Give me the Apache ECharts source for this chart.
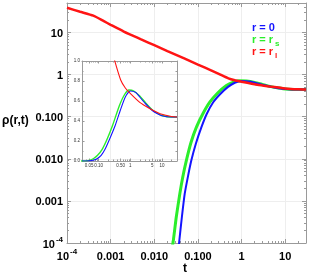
<!DOCTYPE html>
<html><head><meta charset="utf-8">
<script src="https://cdn.jsdelivr.net/npm/echarts@6/dist/echarts.min.js"></script>
<style>html,body{margin:0;padding:0;background:#fff}#c{width:310px;height:279px}</style>
</head><body><div id="c"></div>
<script>
// ---- data ----
const tRed   = [1e-4, 2e-4, 4e-4, 7e-4, 1e-3, 2e-3, 5e-3, 0.01, 0.02, 0.05, 0.1, 0.2, 0.3, 0.5, 0.7, 1, 2, 3, 5, 10, 20, 30];
const rhoRed = [38.5, 31, 25, 18.5, 15.2, 10.5, 6.85, 4.98, 3.62, 2.38, 1.73, 1.26, 1.04, 0.81, 0.73, 0.676, 0.586, 0.55, 0.51, 0.467, 0.445, 0.44];
const tGreen   = [0.02, 0.027, 0.032, 0.0386, 0.045, 0.0546, 0.07, 0.093, 0.13, 0.187, 0.28, 0.45, 0.65, 0.91, 1.3, 2, 3, 5, 7, 10, 20, 30];
const rhoGreen = [1.5e-5, 1.05e-4, 4.2e-4, 0.0015, 0.0037, 0.0093, 0.025, 0.057, 0.117, 0.22, 0.36, 0.55, 0.66, 0.71, 0.70, 0.65, 0.585, 0.51, 0.48, 0.455, 0.44, 0.44];
const tBlue   = [0.03, 0.037, 0.043, 0.05, 0.06, 0.071, 0.09, 0.121, 0.16, 0.224, 0.33, 0.49, 0.7, 1, 1.5, 2, 3, 5, 7, 10, 20, 30];
const rhoBlue = [1.2e-5, 1e-4, 4.2e-4, 0.0015, 0.0041, 0.0093, 0.023, 0.057, 0.117, 0.22, 0.35, 0.51, 0.64, 0.70, 0.685, 0.64, 0.575, 0.505, 0.475, 0.453, 0.44, 0.44];

const mainXTickValues = [1e-4, 1e-3, 1e-2, 0.1, 1, 10];
const mainXTickLabels = ['10^-4', '0.001', '0.010', '0.100', '1', '10'];
const mainYTickValues = [1e-4, 1e-3, 1e-2, 0.1, 1, 10];
const mainYTickLabels = ['10^-4', '0.001', '0.010', '0.100', '1', '10'];
const insetXTickValues = [0.05, 0.1, 0.5, 1, 5, 10];
const insetXTickLabels = ['0.05', '0.10', '0.50', '1', '5', '10'];
const insetYTickValues = [0, 0.2, 0.4, 0.6, 0.8, 1.0];
const insetYTickLabels = ['0.0', '0.2', '0.4', '0.6', '0.8', '1.0'];

const mainXRange = [1e-4, 30], mainYRange = [1e-4, 50];
const insetXRange = [0.03, 30], insetYRange = [0, 1];

// ---- build ----
const L = Math.log10;
const FONT = '"Liberation Sans", Arial, sans-serif';
const AX = '#9a9a9a';
function minorLog(range) {
  const out = [];
  for (let n = -6; n <= 3; n++) for (let k = 2; k <= 9; k++) {
    const v = k * Math.pow(10, n);
    if (v > range[0] && v < range[1]) out.push(L(v));
  }
  return out;
}
function labelFmt(vals, labels, logged) {
  return function (v) {
    let best = 0, d = Infinity;
    vals.forEach((tv, i) => { const x = logged ? L(tv) : tv; if (Math.abs(x - v) < d) { d = Math.abs(x - v); best = i; } });
    const s = labels[best];
    if (s.indexOf('^') >= 0) { const p = s.split('^'); return '{b|' + p[0] + '}{s|' + p[1] + '}'; }
    return '{b|' + s + '}';
  };
}
const richMain = {
  b: {fontFamily: FONT, fontWeight: 'bold', fontSize: 11, color: '#000', lineHeight: 14, verticalAlign: 'bottom'},
  s: {fontFamily: FONT, fontWeight: 'bold', fontSize: 8, color: '#000', lineHeight: 14, verticalAlign: 'top', padding: [0, 0, 0, 1]}
};
const richInset = {
  b: {fontFamily: FONT, fontSize: 4.5, color: '#333'}
};
function axis(o) {
  const base = {
    type: 'value', axisLine: {show: true, onZero: false, lineStyle: {color: AX, width: 1}},
    axisTick: {show: true, inside: true, length: 4, lineStyle: {color: AX}},
    axisLabel: {show: false}, splitLine: {show: false}
  };
  const r = Object.assign(base, o);
  r.axisLine = Object.assign({onZero: false}, r.axisLine);
  return r;
}
const mxMaj = mainXTickValues.map(L), myMaj = mainYTickValues.map(L);
const mxMin = minorLog(mainXRange), myMin = minorLog(mainYRange);
const ixMaj = insetXTickValues.map(L), ixMin = minorLog(insetXRange).filter(v => ixMaj.every(m => Math.abs(m - v) > 1e-9));
const iyMaj = insetYTickValues, iyMin = [0.1, 0.3, 0.5, 0.7, 0.9];

const mx = {min: L(mainXRange[0]), max: L(mainXRange[1])};
const my = {min: L(mainYRange[0]), max: L(mainYRange[1])};
const ix = {min: L(insetXRange[0]), max: L(insetXRange[1])};
const iy = {min: insetYRange[0], max: insetYRange[1]};
const NOLINE = {show: false, onZero: false};
const LINE = {show: true, onZero: false, lineStyle: {color: AX, width: 1}};

const xAxis = [
  axis(Object.assign({gridIndex: 0, position: 'bottom', axisLine: LINE,
    axisTick: {show: true, inside: true, length: 4, customValues: mxMaj, lineStyle: {color: AX}},
    axisLabel: {show: true, customValues: mxMaj, formatter: labelFmt(mainXTickValues, mainXTickLabels, true), rich: richMain, margin: 5, showMinLabel: true, showMaxLabel: true},
    splitLine: {show: true, lineStyle: {color: '#eeeeee', width: 1}}}, mx)),
  axis(Object.assign({gridIndex: 0, position: 'top', axisLine: LINE, axisTick: {show: true, inside: true, length: 4, customValues: mxMaj, lineStyle: {color: AX}}}, mx)),
  axis(Object.assign({gridIndex: 1, position: 'bottom', axisLine: NOLINE, axisTick: {show: true, inside: true, length: 2, customValues: mxMin, lineStyle: {color: AX}}}, mx)),
  axis(Object.assign({gridIndex: 1, position: 'top', axisLine: NOLINE, axisTick: {show: true, inside: true, length: 2, customValues: mxMin, lineStyle: {color: AX}}}, mx)),
  axis(Object.assign({gridIndex: 2, position: 'bottom', axisLine: LINE,
    axisTick: {show: true, inside: true, length: 2.5, customValues: ixMaj, lineStyle: {color: AX}},
    axisLabel: {show: true, customValues: ixMaj, formatter: labelFmt(insetXTickValues, insetXTickLabels, true), rich: richInset, margin: 2, showMinLabel: true, showMaxLabel: true}}, ix)),
  axis(Object.assign({gridIndex: 2, position: 'top', axisLine: LINE, axisTick: {show: true, inside: true, length: 2.5, customValues: ixMaj, lineStyle: {color: AX}}}, ix)),
  axis(Object.assign({gridIndex: 3, position: 'bottom', axisLine: NOLINE, axisTick: {show: true, inside: true, length: 1.5, customValues: ixMin, lineStyle: {color: AX}}}, ix)),
  axis(Object.assign({gridIndex: 3, position: 'top', axisLine: NOLINE, axisTick: {show: true, inside: true, length: 1.5, customValues: ixMin, lineStyle: {color: AX}}}, ix))
];
const yAxis = [
  axis(Object.assign({gridIndex: 0, position: 'left', axisLine: LINE,
    axisTick: {show: true, inside: true, length: 4, customValues: myMaj, lineStyle: {color: AX}},
    axisLabel: {show: true, customValues: myMaj, formatter: labelFmt(mainYTickValues, mainYTickLabels, true), rich: richMain, margin: 4, showMinLabel: true, showMaxLabel: true},
    splitLine: {show: true, lineStyle: {color: '#eeeeee', width: 1}}}, my)),
  axis(Object.assign({gridIndex: 0, position: 'right', axisLine: LINE, axisTick: {show: true, inside: true, length: 4, customValues: myMaj, lineStyle: {color: AX}}}, my)),
  axis(Object.assign({gridIndex: 1, position: 'left', axisLine: NOLINE, axisTick: {show: true, inside: true, length: 2, customValues: myMin, lineStyle: {color: AX}}}, my)),
  axis(Object.assign({gridIndex: 1, position: 'right', axisLine: NOLINE, axisTick: {show: true, inside: true, length: 2, customValues: myMin, lineStyle: {color: AX}}}, my)),
  axis(Object.assign({gridIndex: 2, position: 'left', axisLine: LINE,
    axisTick: {show: true, inside: true, length: 2.5, customValues: iyMaj, lineStyle: {color: AX}},
    axisLabel: {show: true, customValues: iyMaj, formatter: labelFmt(insetYTickValues, insetYTickLabels, false), rich: richInset, margin: 2, showMinLabel: true, showMaxLabel: true}}, iy)),
  axis(Object.assign({gridIndex: 2, position: 'right', axisLine: LINE, axisTick: {show: true, inside: true, length: 2.5, customValues: iyMaj, lineStyle: {color: AX}}}, iy)),
  axis(Object.assign({gridIndex: 3, position: 'left', axisLine: NOLINE, axisTick: {show: true, inside: true, length: 1.5, customValues: iyMin, lineStyle: {color: AX}}}, iy)),
  axis(Object.assign({gridIndex: 3, position: 'right', axisLine: NOLINE, axisTick: {show: true, inside: true, length: 1.5, customValues: iyMin, lineStyle: {color: AX}}}, iy))
];

const BLUE = '#1414ff', GREEN = '#2bee2b', RED = '#ff1414';
function pts(ts, vs, logY) { return ts.map((t, i) => [L(t), logY ? L(vs[i]) : vs[i]]); }
function line(name, data, color, width, xi, yi, z) {
  return {type: 'line', name, data, xAxisIndex: xi, yAxisIndex: yi, showSymbol: false, symbol: 'none',
    smooth: 0.2, clip: true, z,
    lineStyle: {color, width}, emphasis: {disabled: true}};
}
const series = [
  line('g', pts(tGreen, rhoGreen, true), GREEN, 3, 0, 0, 2),
  line('b', pts(tBlue, rhoBlue, true), BLUE, 2, 0, 0, 3),
  line('r', pts(tRed, rhoRed, true), RED, 2.5, 0, 0, 4),
  line('gi', pts(tGreen, rhoGreen, false), GREEN, 1.4, 4, 4, 2),
  line('bi', pts(tBlue, rhoBlue, false), BLUE, 1.1, 4, 4, 3),
  line('ri', pts(tRed, rhoRed, false), RED, 1.1, 4, 4, 4)
];

const grids = [
  {left: 67, top: 3, width: 239, height: 240},
  {left: 67, top: 3, width: 239, height: 240},
  {left: 82, top: 61, width: 95, height: 100},
  {left: 82, top: 61, width: 95, height: 100}
];

const LF = 'bold 11px ' + FONT, SF = 'bold 8px ' + FONT;
const graphic = [
  {type: 'text', left: 2, top: 115, style: {text: 'ρ(r,t)', font: 'bold 12px ' + FONT, fill: '#000'}},
  {type: 'text', left: 183, top: 263, style: {text: 't', font: 'bold 12px ' + FONT, fill: '#000'}},
  {type: 'text', left: 252, top: 22, style: {text: 'r = 0', font: LF, fill: BLUE}},
  {type: 'text', left: 252, top: 34, style: {text: 'r = r', font: LF, fill: GREEN}},
  {type: 'text', left: 275, top: 40, style: {text: 's', font: SF, fill: GREEN}},
  {type: 'text', left: 252, top: 46, style: {text: 'r = r', font: LF, fill: RED}},
  {type: 'text', left: 275, top: 52, style: {text: 'l', font: SF, fill: RED}}
];

const chart = echarts.init(document.getElementById('c'), null, {renderer: 'canvas'});
chart.setOption({animation: false, grid: grids, xAxis, yAxis, series, graphic});
</script></body></html>
